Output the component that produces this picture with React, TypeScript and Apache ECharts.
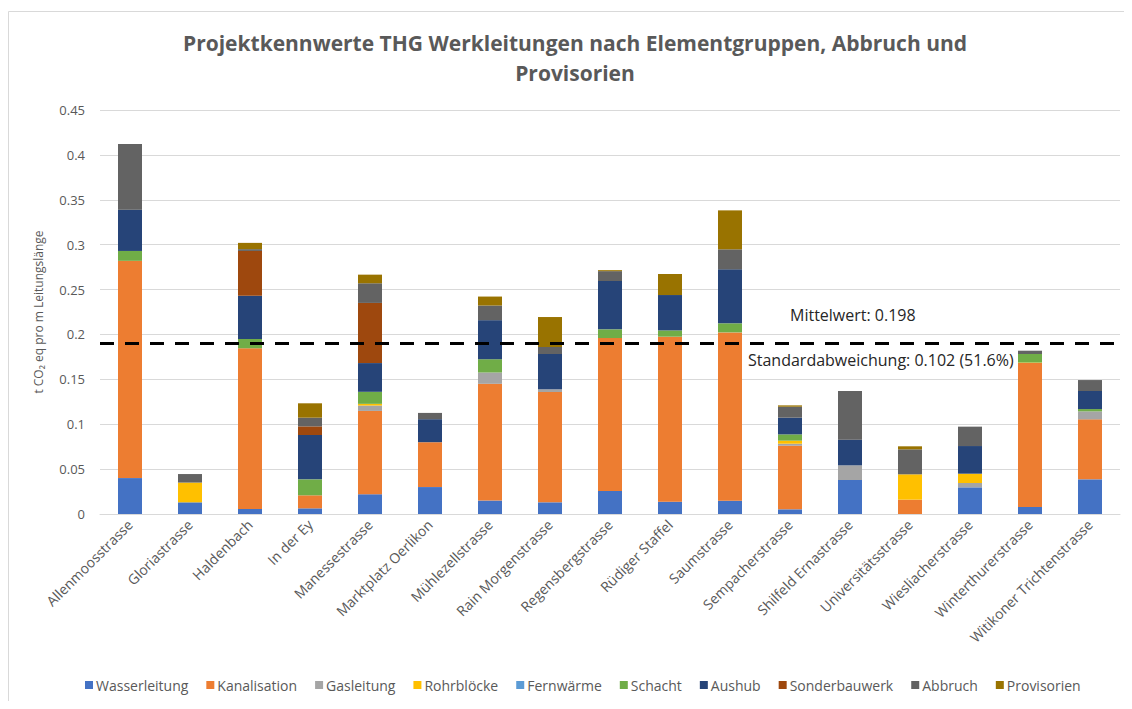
import React, { useEffect, useRef } from "react";
import * as echarts from "echarts";

const categories = [
  "Allenmoosstrasse", "Gloriastrasse", "Haldenbach", "In der Ey", "Manessestrasse",
  "Marktplatz Oerlikon", "Mühlezellstrasse", "Rain Morgenstrasse", "Regensbergstrasse",
  "Rüdiger Staffel", "Saumstrasse", "Sempacherstrasse", "Shilfeld Ernastrasse",
  "Universitätsstrasse", "Wiesliacherstrasse", "Winterthurerstrasse", "Witikoner Trichtenstrasse",
];

const wasserleitung = [0.040, 0.013, 0.0056, 0.0063, 0.022, 0.030, 0.015, 0.013, 0.0256, 0.0137, 0.0148, 0.0052, 0.0379, 0, 0.0297, 0.0078, 0.0386];
const kanalisation = [0.242, 0, 0.179, 0.0145, 0.0928, 0.050, 0.130, 0.1229, 0.1704, 0.1838, 0.1875, 0.0708, 0, 0.016, 0, 0.1604, 0.0668];
const gasleitung = [0, 0, 0, 0, 0.006, 0, 0.0126, 0.003, 0, 0, 0, 0.0023, 0.0163, 0, 0.0048, 0, 0.0089];
const rohrbloecke = [0, 0.022, 0, 0, 0.0019, 0, 0, 0, 0, 0, 0, 0.0034, 0, 0.0282, 0.0104, 0.0005, 0];
const fernwaerme = [0, 0, 0, 0, 0, 0, 0, 0, 0, 0, 0, 0, 0, 0, 0, 0, 0];
const schacht = [0.011, 0, 0.0104, 0.0178, 0.0134, 0, 0.0148, 0, 0.0097, 0.007, 0.0101, 0.007, 0, 0, 0, 0.0095, 0.0026];
const aushub = [0.046, 0, 0.048, 0.0494, 0.032, 0.0256, 0.0435, 0.0393, 0.0538, 0.0394, 0.0601, 0.0186, 0.0286, 0, 0.0308, 0, 0.0201];
const sonderbauwerk = [0, 0, 0.050, 0.0096, 0.067, 0, 0, 0, 0, 0, 0, 0, 0, 0, 0, 0, 0];
const abbruch = [0.073, 0.0095, 0.002, 0.0097, 0.0219, 0.007, 0.0163, 0.0078, 0.011, 0, 0.0223, 0.0122, 0.0542, 0.0278, 0.0216, 0.0037, 0.0122];
const provisorien = [0, 0, 0.007, 0.016, 0.0096, 0, 0.010, 0.0334, 0.0011, 0.0234, 0.0434, 0.0015, 0, 0.0034, 0, 0, 0];

const seriesNames = ["Wasserleitung", "Kanalisation", "Gasleitung", "Rohrblöcke", "Fernwärme", "Schacht", "Aushub", "Sonderbauwerk", "Abbruch", "Provisorien"];
const seriesData = [wasserleitung, kanalisation, gasleitung, rohrbloecke, fernwaerme, schacht, aushub, sonderbauwerk, abbruch, provisorien];
const seriesColors = ["#4472C4", "#ED7D31", "#A5A5A5", "#FFC000", "#5B9BD5", "#70AD47", "#264478", "#9E480E", "#636363", "#997300"];

const meanLineValue = 0.189;
const yTicks = { min: 0, max: 0.45, interval: 0.05 };

const FONT = "'Open Sans', 'Noto Sans', sans-serif";
const TEXT = "#595959";

export default function App() {
  const ref = useRef<HTMLDivElement>(null);
  useEffect(() => {
    if (!ref.current) return;
    const chart = echarts.init(ref.current, undefined, { renderer: "svg" });
    const series: any[] = seriesNames.map((name, i) => ({
      name,
      type: "bar",
      stack: "total",
      barWidth: "40%",
      data: seriesData[i],
      itemStyle: { color: seriesColors[i] },
      ...(i === 0
        ? {
            markLine: {
              silent: true,
              symbol: "none",
              data: [{ yAxis: meanLineValue }],
              lineStyle: { type: [14, 11], color: "#000000", width: 3 },
              label: { show: false },
            },
          }
        : {}),
    }));
    chart.setOption({
      animation: false,
      textStyle: { fontFamily: FONT },
      legend: {
        bottom: 4,
        left: 72,
        icon: "rect",
        itemWidth: 8,
        itemHeight: 8,
        itemGap: 18,
        textStyle: { fontFamily: FONT, fontSize: 14, color: TEXT, padding: [0, 0, 0, -2] },
        data: seriesNames,
      },
      grid: { left: 92, right: 4, top: 102, bottom: 187, containLabel: false },
      xAxis: {
        type: "category",
        data: categories,
        axisTick: { show: false },
        axisLine: { lineStyle: { color: "#D9D9D9" } },
        axisLabel: { rotate: 45, color: TEXT, fontSize: 14, fontFamily: FONT, margin: 8, interval: 0 },
      },
      yAxis: {
        type: "value",
        min: yTicks.min,
        max: yTicks.max,
        interval: yTicks.interval,
        name: "t CO₂ eq pro m Leitungslänge",
        nameLocation: "middle",
        nameGap: 56,
        nameTextStyle: { color: TEXT, fontSize: 12, fontFamily: FONT },
        axisLabel: { color: TEXT, fontSize: 13, fontFamily: FONT, margin: 15 },
        splitLine: { lineStyle: { color: "#D9D9D9" } },
        axisLine: { show: false },
        axisTick: { show: false },
      },
      graphic: [
        { type: "rect", shape: { x: 0.5, y: 3.5, width: 1200, height: 800 }, style: { fill: "none", stroke: "#D9D9D9", lineWidth: 1 }, silent: true },
        { type: "text", x: 567, y: 35, style: { text: "Projektkennwerte THG Werkleitungen nach Elementgruppen, Abbruch und", font: `bold 21px ${FONT}`, fill: TEXT, textAlign: "center", textVerticalAlign: "middle" } },
        { type: "text", x: 567, y: 65, style: { text: "Provisorien", font: `bold 21px ${FONT}`, fill: TEXT, textAlign: "center", textVerticalAlign: "middle" } },
        { type: "text", left: 782, top: 299, style: { text: "Mittelwert: 0.198", font: `16px ${FONT}`, fill: "#262626" } },
        { type: "text", left: 740, top: 344, style: { text: "Standardabweichung: 0.102 (51.6%)", font: `16px ${FONT}`, fill: "#262626" } },
      ],
      series,
    });
    return () => chart.dispose();
  }, []);
  return <div ref={ref} style={{ width: 1116, height: 693 }} />;
}
